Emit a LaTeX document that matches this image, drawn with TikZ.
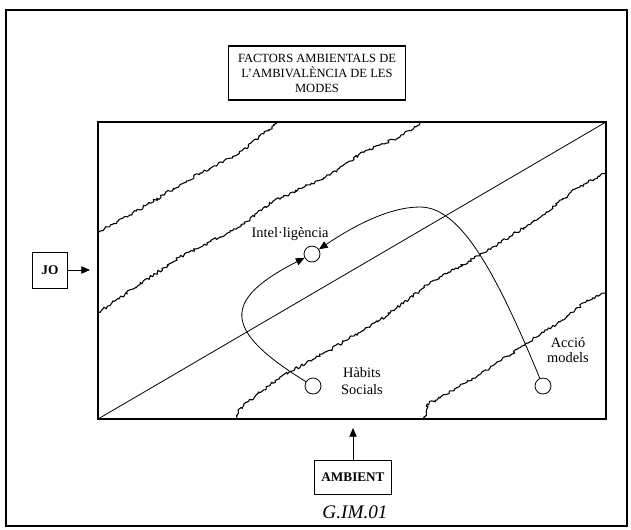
\documentclass[tikz,border=0pt]{standalone}
\usepackage{fontspec}
\setmainfont{Liberation Serif}
\usetikzlibrary{arrows.meta,decorations.pathmorphing}

\tikzset{
	caixa/.style={draw,line width=0.6pt,align=center,inner sep=0pt},
	etiq/.style={font=\fontsize{10.8}{12}\selectfont,align=center},
	punt/.style={draw,circle,minimum size=12pt,inner sep=0pt,line width=0.6pt},
	rugos/.style={decorate,decoration={random steps,segment length=1.4pt,amplitude=1.1pt},line width=0.8pt,line join=round},
	fletxa/.style={line width=0.6pt,-{Triangle[length=6.5pt,width=5.5pt]}},
}

\begin{document}
\begin{tikzpicture}[x=0.75pt,y=-0.75pt]
	\useasboundingbox (0,0) rectangle (631,529);
	\draw[line width=1.2pt] (6,10) rectangle (627,526);
	\node[caixa,line width=1pt,minimum width=133pt,minimum height=40.5pt,font=\fontsize{9.4}{11.3}\selectfont] at (317,73) (titol) {FACTORS AMBIENTALS DE\\L'AMBIVALÈNCIA DE LES\\MODES};
	\coordinate (bl) at (98,419);
	\coordinate (tr) at (606,122);
	\draw[line width=1.5pt] (bl) rectangle (tr);
	\draw[line width=0.6pt] (bl) -- (tr);
	\pgfmathsetseed{7}
	\draw[rugos] (99,232) -- (130,215) -- (200,173) -- (237,155) -- (277,123);
	\draw[rugos] (99,312) -- (180,257) -- (240,227) -- (270,203) -- (330,175) -- (363,152) -- (400,137) -- (420,123);
	\draw[rugos] (237,418) -- (238,410) -- (280,377) -- (330,350) -- (380,320) -- (430,283) -- (483,253) -- (537,220) -- (577,188) -- (605,173);
	\draw[rugos] (425,418) -- (427,404) -- (440,398) -- (490,368) -- (527,343) -- (567,317) -- (587,300) -- (605,293);
	\node[punt] at (312,254) (intel) {};
	\node[etiq] at (290,234) (tintel) {Intel·ligència};
	\node[punt] at (313,386) (habits) {};
	\node[etiq,font=\fontsize{10.8}{12.5}\selectfont] at (362,381) (thabits) {Hàbits\\Socials};
	\node[punt] at (543,386) (accio) {};
	\node[etiq,font=\fontsize{10.8}{11.3}\selectfont] at (568,350) (taccio) {Acció\\models};
	\draw[fletxa] (habits) .. controls (222,330) and (222,300) .. (intel);
	\draw[fletxa] (accio) .. controls (495,270) and (460,207) .. (420,207) .. controls (390,207) and (355,225) .. (intel);
	\node[caixa,minimum width=26pt,minimum height=27pt,font=\bfseries\fontsize{10}{12}\selectfont] at (50,270) (jo) {JO};
	\coordinate (joend) at (90,270);
	\draw[fletxa] (jo) -- (joend);
	\node[caixa,minimum width=58pt,minimum height=25.5pt,font=\bfseries\fontsize{9.9}{12}\selectfont] at (353,477) (ambient) {AMBIENT};
	\coordinate (ambend) at (353,428);
	\draw[fletxa] (ambient) -- (ambend);
	\node[font=\itshape\fontsize{14.4}{16}\selectfont] at (355,512) (codi) {G.IM.01};
\end{tikzpicture}
\end{document}
